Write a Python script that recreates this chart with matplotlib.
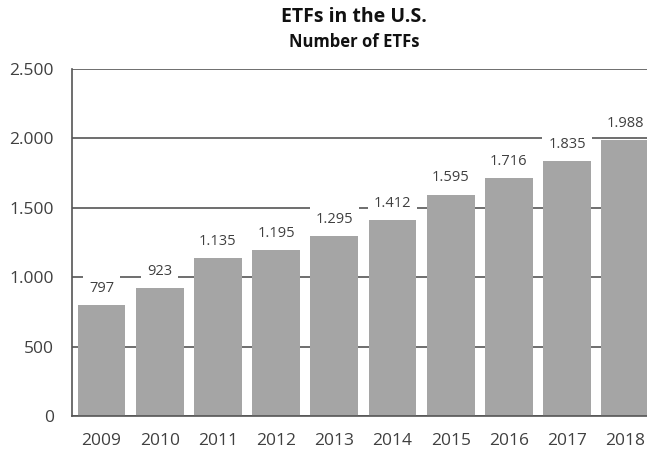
import matplotlib
matplotlib.use('AGG')
import matplotlib.pyplot as plt
from matplotlib.ticker import FuncFormatter

plt.rcParams['font.family'] = ['Open Sans', 'DejaVu Sans']

# Number of ETFs in the U.S. per year
years = ['2009', '2010', '2011', '2012', '2013', '2014', '2015', '2016', '2017', '2018']
etfs = [797, 923, 1135, 1195, 1295, 1412, 1595, 1716, 1835, 1988]
yticks = [0, 500, 1000, 1500, 2000, 2500]


def dotted(v):
    return f"{v:,.0f}".replace(",", ".")


fig = plt.figure(figsize=(6.47, 4.54), dpi=100)
ax = fig.add_axes([72/647, 38/454, 575/647, 347/454])

x = list(range(len(years)))
ax.bar(x, etfs, width=0.82, color='#a5a5a5', zorder=2)

for xi, v in zip(x, etfs):
    ax.annotate(dotted(v), (xi, v), xytext=(0, 12), textcoords='offset points',
                ha='center', va='center', fontsize=10.5, color='#404040', zorder=4,
                bbox=dict(boxstyle='square,pad=0.4', fc='white', ec='none'))

ax.set_ylim(0, 2500)
ax.set_xlim(-0.507, 9.373)
ax.set_yticks(yticks)
ax.yaxis.set_major_formatter(FuncFormatter(lambda v, p: dotted(v)))
ax.set_xticks(x)
ax.set_xticklabels(years)
ax.grid(axis='y', color='#555555', linewidth=1.2, zorder=1)
ax.set_axisbelow(True)

for s in ['top', 'right']:
    ax.spines[s].set_visible(False)
for s in ['left', 'bottom']:
    ax.spines[s].set_color('#555555')
    ax.spines[s].set_linewidth(1.2)
    ax.spines[s].set_zorder(3)

ax.tick_params(axis='both', length=0, labelsize=12.5, labelcolor='#404040')
ax.tick_params(axis='y', pad=13)
ax.tick_params(axis='x', pad=12)

fig.text(354/647, 1 - 22/454, 'ETFs in the U.S.', ha='center', va='baseline',
         fontsize=14, fontweight='bold', color='#111111')
fig.text(354/647, 1 - 47/454, 'Number of ETFs', ha='center', va='baseline',
         fontsize=12, fontweight='bold', color='#111111')

fig.savefig('out.png', dpi=100)
